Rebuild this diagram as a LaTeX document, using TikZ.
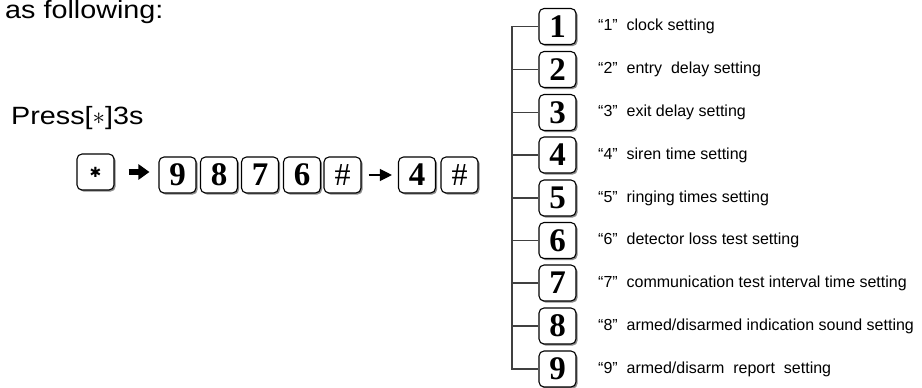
\documentclass[tikz,border=0pt]{standalone}
\usepackage{fontspec}
\setmainfont{Liberation Sans}
\newfontfamily\widefont[FakeStretch=1.15]{Liberation Sans}
\newfontfamily\keyfont{Liberation Serif}
\newfontfamily\symfont{DejaVu Sans}
\usetikzlibrary{arrows.meta,shadows}
\begin{document}
\begin{tikzpicture}[x=1pt,y=-1pt,
  keybox/.style={draw, line width=1.1pt, rounded corners=5pt, fill=white,
    minimum width=37pt, minimum height=36pt, inner sep=0pt,
    drop shadow={shadow xshift=1.6pt, shadow yshift=-1.6pt, fill=black!45, opacity=1}},
  digit/.style={keybox, font=\keyfont\bfseries\fontsize{33}{33}\selectfont},
  hash/.style={keybox, font=\keyfont\fontsize{32}{32}\selectfont},
  label/.style={anchor=west, inner sep=0pt, font=\fontsize{16}{16}\selectfont},
  tree/.style={draw=black!75, line width=1.1pt}]
\useasboundingbox (0,0) rectangle (922,388);

% headings
\node[anchor=base west, inner sep=0pt, font=\widefont\fontsize{25}{25}\selectfont] (head) at (5,18) {as following:};
\node[anchor=base west, inner sep=0pt, font=\widefont\fontsize{25}{25}\selectfont] (press) at (11,124) {Press[$\ast$]3s};

% key sequence
\node[keybox, font=\symfont\fontsize{14}{14}\selectfont] (star) at (95.5,172) {✱};
\node[digit] (k9) at (177.5,175) {9};
\node[digit] (k8) at (219,175) {8};
\node[digit] (k7) at (260,175) {7};
\node[digit] (k6) at (302,175) {6};
\node[hash] (h1) at (342.5,175) {\#};
\node[digit] (k4) at (417,175) {4};
\node[hash] (h2) at (459.5,175) {\#};

\draw[line width=6pt, -{Triangle[length=11pt,width=15pt]}, shorten <=14pt, shorten >=9pt]
  (star.east) -- (star.east -| k9.west);
\draw[line width=1.2pt, -{Triangle[length=12pt,width=12pt]}, shorten <=7pt, shorten >=6pt]
  (h1.east) -- (k4.west);

% menu
\foreach \n/\yy/\txt in {
  1/26.5/{“1”\ \ clock setting},
  2/69.5/{“2”\ \ entry\ \ delay setting},
  3/112.5/{“3”\ \ exit delay setting},
  4/155/{“4”\ \ siren time setting},
  5/198/{“5”\ \ ringing times setting},
  6/240.5/{“6”\ \ detector loss test setting},
  7/283/{“7”\ \ communication test interval time setting},
  8/326/{“8”\ \ armed/disarmed indication sound setting},
  9/369/{“9”\ \ armed/disarm\ \ report\ \ setting}} {
  \node[digit] (m\n) at (557.5,\yy) {\n};
  \node[label] (t\n) at (598,\yy) {\txt};
}
\coordinate (trunk) at (512,0);
\draw[tree] (m1.west) -| (trunk |- m9.west) -- (m9.west);
\foreach \n in {2,...,8} {
  \draw[tree] (m\n.west) -- (trunk |- m\n.west);
}
\end{tikzpicture}
\end{document}
